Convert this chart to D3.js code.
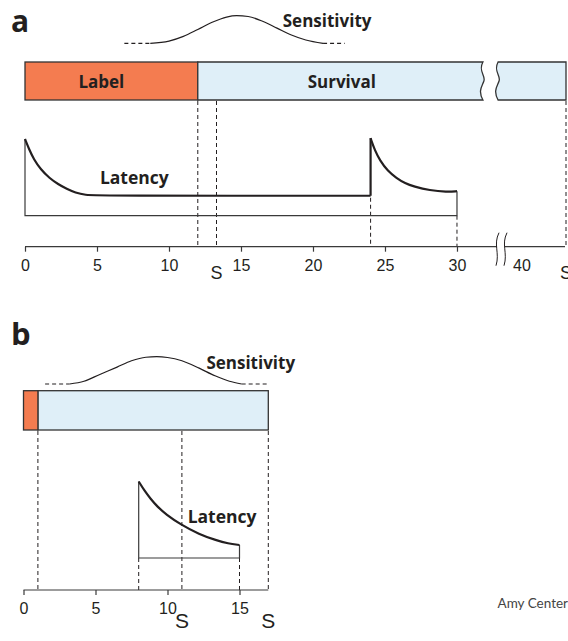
<!DOCTYPE html>
<html lang="en">
  <head>
    <meta charset="utf-8">
    <title>Label, survival and latency timeline</title>
    <script src="https://d3js.org/d3.v7.js"></script>
    <style>
      body { margin: 0; background: #fff; }
      .lbl { font-family: "Open Sans", sans-serif; font-weight: 700; fill: #231f20; }
    </style>
  </head>

  <body>
    <script>
      // ---- data ----
      // panel a
      const ticksA = [0, 5, 10, 15, 20, 25, 30];
      const extraTickA = [40];
      const labelA = [0, 12];
      const survivalA = [[12, 31.8], [33.4, 43.1]];
      const sMarksA = [13.3, 43.1];
      const dashFullA = [12, 13.3, 43.1];
      const dashLatA = [24, 30];
      const latencyA1 = [[0, 1], [0.3, 0.86], [0.6, 0.74], [1.1, 0.6], [1.7, 0.49], [2.3, 0.41], [2.9, 0.35], [3.5, 0.3], [4.2, 0.27], [5, 0.26], [24, 0.26]];
      const latencyA2 = [[24, 1.01], [24.3, 0.85], [24.65, 0.72], [25.2, 0.58], [25.8, 0.49], [26.4, 0.42], [27, 0.38], [28.1, 0.33], [29.3, 0.31], [30, 0.32]];
      const latencyBoxA = [0, 30];
      const sensA = [[8.7, 0], [10, 0.08], [11, 0.25], [12, 0.5], [13, 0.76], [14, 0.95], [14.7, 1],
                     [15.5, 0.97], [16.5, 0.8], [17.5, 0.55], [18.5, 0.3], [19.5, 0.12], [20.7, 0]];
      const sensDashA = [[6.9, 8.7], [20.7, 22.2]];

      // panel b
      const ticksB = [0, 5, 10, 15];
      const labelB = [0, 1];
      const survivalB = [1, 17];
      const sMarksB = [11, 17];
      const dashFullB = [1, 11, 17];
      const dashLatB = [8, 15];
      const latencyB = [[8, 1], [8.4, 0.88], [8.8, 0.78], [9.3, 0.67], [9.9, 0.57], [10.9, 0.44], [12.2, 0.31], [13.4, 0.23], [14.2, 0.19], [15, 0.17]];
      const latencyBoxB = [8, 15];
      const sensB = [[3.2, 0], [4.2, 0.1], [5.3, 0.35], [6.5, 0.62], [7.5, 0.85], [8.5, 0.98], [9.25, 1],
                     [10, 0.97], [11, 0.85], [12.2, 0.58], [13.3, 0.3], [14.3, 0.1], [15.15, 0]];
      const sensDashB = [[1.5, 3.2], [15.15, 16.9]];

      const orange = "#f47c50";
      const blue = "#dfeff8";
      const ink = "#231f20";

      const w = 568;
      const h = 641;

      const svg = d3.select("body")
        .append("svg")
        .attr("width", w)
        .attr("height", h);

      // ---- scales ----
      // panel a has a broken axis between 32.8 and 38.8
      const xA = d3.scaleLinear()
        .domain([0, 32.8, 38.8, 43.1])
        .range([25, 497.3, 505, 566]);
      const xB = d3.scaleLinear()
        .domain([0, 17])
        .range([23.5, 268.3]);

      const barA = { top: 62, bottom: 100 };
      const barB = { top: 390.7, bottom: 430 };
      const axisYA = 246.7;
      const axisYB = 590;

      const yLatA = d3.scaleLinear().domain([0, 1]).range([215.7, 139]);
      const yLatB = d3.scaleLinear().domain([0, 1]).range([558, 481.5]);
      const ySensA = d3.scaleLinear().domain([0, 1]).range([43.3, 15.7]);
      const ySensB = d3.scaleLinear().domain([0, 1]).range([384, 356.7]);

      // brace-like wavy vertical edge
      function wavy(x, y0, y1) {
        const m = (y0 + y1) / 2;
        const q = (y1 - y0) / 4;
        return `C${x - 5},${y0 + q} ${x + 3},${m - q * 0.6} ${x + 1},${m} ` +
               `C${x - 1},${m + q * 0.6} ${x - 5},${y1 - q} ${x},${y1}`;
      }

      function drawSens(g, x, y, pts, dashes) {
        const line = d3.line()
          .x(d => x(d[0]))
          .y(d => y(d[1]))
          .curve(d3.curveMonotoneX);
        g.append("path")
          .attr("d", line(pts))
          .attr("fill", "none")
          .attr("stroke", ink)
          .attr("stroke-width", 1.2);
        g.selectAll(null)
          .data(dashes)
          .enter().append("line")
          .attr("x1", d => x(d[0]))
          .attr("x2", d => x(d[1]))
          .attr("y1", y(0))
          .attr("y2", y(0))
          .attr("stroke", ink)
          .attr("stroke-width", 1.2)
          .attr("stroke-dasharray", "4,3");
      }

      function drawDashes(g, x, vals, y0, y1) {
        g.selectAll(null)
          .data(vals)
          .enter().append("line")
          .attr("x1", d => x(d))
          .attr("x2", d => x(d))
          .attr("y1", y0)
          .attr("y2", y1)
          .attr("stroke", ink)
          .attr("stroke-width", 1)
          .attr("stroke-dasharray", "4,3");
      }

      function drawLatencyCurve(g, x, y, pts) {
        const line = d3.line()
          .x(d => x(d[0]))
          .y(d => y(d[1]))
          .curve(d3.curveBasis);
        g.append("path")
          .attr("d", line(pts))
          .attr("fill", "none")
          .attr("stroke", ink)
          .attr("stroke-width", 2.2);
      }

      function drawLatencyBox(g, x, y, box, startH, endH) {
        const p = d3.path();
        p.moveTo(x(box[0]), y(startH));
        p.lineTo(x(box[0]), y(0));
        p.lineTo(x(box[1]), y(0));
        p.lineTo(x(box[1]), y(endH));
        g.append("path")
          .attr("d", p.toString())
          .attr("fill", "none")
          .attr("stroke", "#3a3a3a")
          .attr("stroke-width", 1.2);
      }

      function drawAxis(g, x, ticks, y) {
        const axis = d3.axisBottom(x)
          .tickValues(ticks)
          .tickFormat(d3.format("d"))
          .tickSize(5)
          .tickSizeOuter(0)
          .tickPadding(8);
        const ag = g.append("g")
          .attr("transform", `translate(0, ${y})`)
          .call(axis);
        ag.select(".domain").remove();
        ag.selectAll(".tick line").attr("stroke", "#3a3a3a").attr("stroke-width", 1.2);
        ag.selectAll(".tick text")
          .style("font-family", "'Liberation Sans', Arial, sans-serif")
          .style("font-size", "16px")
          .attr("fill", ink);
        return ag;
      }

      // ================= panel a =================
      const ga = svg.append("g");

      ga.append("text")
        .attr("class", "lbl")
        .attr("x", 11)
        .attr("y", 32)
        .style("font-size", "30px")
        .text("a");

      drawSens(ga, xA, ySensA, sensA, sensDashA);
      ga.append("text")
        .attr("class", "lbl")
        .attr("x", xA(17.9))
        .attr("y", 26.7)
        .style("font-size", "17px")
        .text("Sensitivity");

      // label + survival bar
      ga.append("rect")
        .attr("x", xA(labelA[0]))
        .attr("y", barA.top)
        .attr("width", xA(labelA[1]) - xA(labelA[0]))
        .attr("height", barA.bottom - barA.top)
        .attr("fill", orange)
        .attr("stroke", "#333")
        .attr("stroke-width", 1.3);

      const segA = survivalA.map((s, i) => {
        const x0 = xA(s[0]);
        const x1 = xA(s[1]);
        if (i === 0) {
          return `M${x0},${barA.top} L${x1},${barA.top} ${wavy(x1, barA.top, barA.bottom)} L${x0},${barA.bottom} Z`;
        }
        return `M${x1},${barA.top} L${x0},${barA.top} ${wavy(x0, barA.top, barA.bottom)} L${x1},${barA.bottom} Z`;
      });
      ga.selectAll(".surv")
        .data(segA)
        .enter().append("path")
        .attr("class", "surv")
        .attr("d", d => d)
        .attr("fill", blue)
        .attr("stroke", "#333")
        .attr("stroke-width", 1.3);

      ga.append("text")
        .attr("class", "lbl")
        .attr("x", xA(5.3))
        .attr("y", 88)
        .attr("text-anchor", "middle")
        .style("font-size", "17px")
        .text("Label");
      ga.append("text")
        .attr("class", "lbl")
        .attr("x", xA(22))
        .attr("y", 87.5)
        .attr("text-anchor", "middle")
        .style("font-size", "17px")
        .text("Survival");

      // dashed guides
      drawDashes(ga, xA, dashFullA, barA.bottom + 1, axisYA);
      drawDashes(ga, xA, [dashLatA[0]], yLatA(0.26) + 2, axisYA);
      drawDashes(ga, xA, [dashLatA[1]], yLatA(0), axisYA);

      // latency
      drawLatencyBox(ga, xA, yLatA, latencyBoxA, 1, 0.32);
      drawLatencyCurve(ga, xA, yLatA, latencyA1);
      ga.append("line")
        .attr("x1", xA(24)).attr("x2", xA(24))
        .attr("y1", yLatA(0.26)).attr("y2", yLatA(1.01))
        .attr("stroke", ink).attr("stroke-width", 2.2);
      drawLatencyCurve(ga, xA, yLatA, latencyA2);
      ga.append("text")
        .attr("class", "lbl")
        .attr("x", xA(5.2))
        .attr("y", 184.3)
        .style("font-size", "17.5px")
        .text("Latency");

      // broken axis
      drawAxis(ga, xA, ticksA, axisYA);
      ga.append("line")
        .attr("x1", xA(0)).attr("x2", 497)
        .attr("y1", axisYA).attr("y2", axisYA)
        .attr("stroke", "#3a3a3a").attr("stroke-width", 1.2);
      ga.append("line")
        .attr("x1", 505).attr("x2", xA(43.1) - 1)
        .attr("y1", axisYA).attr("y2", axisYA)
        .attr("stroke", "#3a3a3a").attr("stroke-width", 1.2);
      [497, 505].forEach(bx => {
        ga.append("path")
          .attr("d", `M${bx + 2},${axisYA - 14} C${bx - 4},${axisYA - 2} ${bx + 3},${axisYA + 6} ${bx - 1},${axisYA + 19}`)
          .attr("fill", "none")
          .attr("stroke", ink)
          .attr("stroke-width", 1);
      });
      ga.selectAll(".extra")
        .data(extraTickA)
        .enter().append("text")
        .attr("class", "extra")
        .attr("x", d => xA(d))
        .attr("y", 270.7)
        .attr("text-anchor", "middle")
        .style("font-family", "'Liberation Sans', Arial, sans-serif")
        .style("font-size", "16px")
        .attr("fill", ink)
        .text(d => d);

      ga.selectAll(".smark")
        .data(sMarksA)
        .enter().append("text")
        .attr("class", "smark")
        .attr("x", d => xA(d))
        .attr("y", 278.5)
        .attr("text-anchor", "middle")
        .style("font-family", "'Liberation Sans', Arial, sans-serif")
        .style("font-size", "18px")
        .attr("fill", ink)
        .text("S");

      // ================= panel b =================
      const gb = svg.append("g");

      gb.append("text")
        .attr("class", "lbl")
        .attr("x", 11)
        .attr("y", 345)
        .style("font-size", "31px")
        .text("b");

      drawSens(gb, xB, ySensB, sensB, sensDashB);
      gb.append("text")
        .attr("class", "lbl")
        .attr("x", xB(12.7))
        .attr("y", 369.3)
        .style("font-size", "17px")
        .text("Sensitivity");

      gb.append("rect")
        .attr("x", xB(survivalB[0]))
        .attr("y", barB.top)
        .attr("width", xB(survivalB[1]) - xB(survivalB[0]))
        .attr("height", barB.bottom - barB.top)
        .attr("fill", blue)
        .attr("stroke", "#333")
        .attr("stroke-width", 1.3);
      gb.append("rect")
        .attr("x", xB(labelB[0]))
        .attr("y", barB.top)
        .attr("width", xB(labelB[1]) - xB(labelB[0]))
        .attr("height", barB.bottom - barB.top)
        .attr("fill", orange)
        .attr("stroke", "#333")
        .attr("stroke-width", 1.3);

      drawDashes(gb, xB, dashFullB, barB.bottom + 1, axisYB);
      drawDashes(gb, xB, dashLatB, yLatB(0), axisYB);

      drawLatencyBox(gb, xB, yLatB, latencyBoxB, 1, 0.17);
      drawLatencyCurve(gb, xB, yLatB, latencyB);
      gb.append("text")
        .attr("class", "lbl")
        .attr("x", xB(11.4))
        .attr("y", 523.3)
        .style("font-size", "17.5px")
        .text("Latency");

      drawAxis(gb, xB, ticksB, axisYB);
      gb.append("line")
        .attr("x1", xB(0)).attr("x2", xB(17))
        .attr("y1", axisYB).attr("y2", axisYB)
        .attr("stroke", "#3a3a3a").attr("stroke-width", 1.2);

      gb.selectAll(".smark")
        .data(sMarksB)
        .enter().append("text")
        .attr("class", "smark")
        .attr("x", d => xB(d))
        .attr("y", 627.5)
        .attr("text-anchor", "middle")
        .style("font-family", "'Liberation Sans', Arial, sans-serif")
        .style("font-size", "21px")
        .attr("fill", ink)
        .text("S");

      // credit
      svg.append("text")
        .attr("x", 568)
        .attr("y", 608.3)
        .attr("text-anchor", "end")
        .style("font-family", "Lato, sans-serif")
        .style("font-weight", 400)
        .style("font-size", "13.5px")
        .attr("fill", "#444")
        .text("Amy Center");
    </script>
  </body>
</html>
